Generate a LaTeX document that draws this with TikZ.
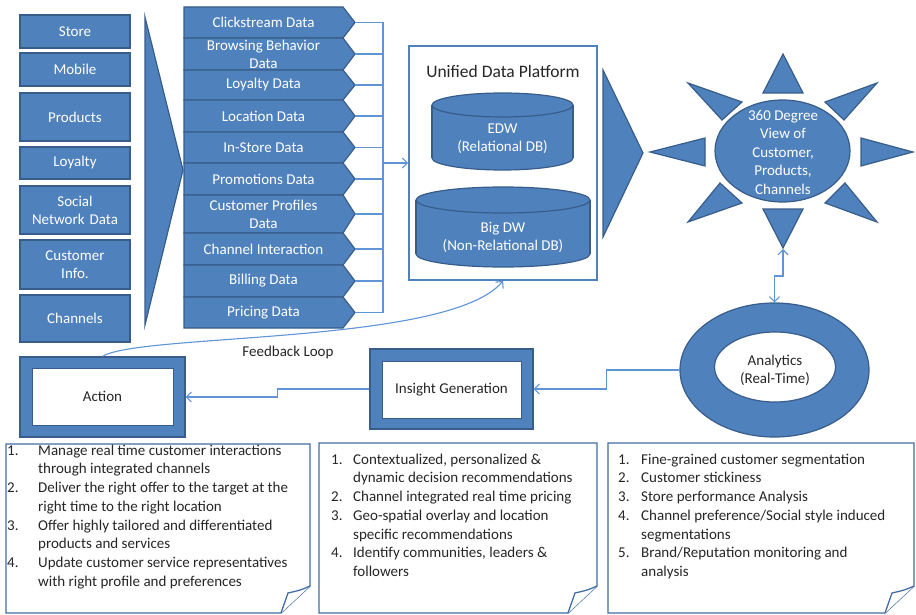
\documentclass[tikz,border=0pt]{standalone}
\usepackage{fontspec}
\setmainfont{Carlito}
\usetikzlibrary{arrows.meta,calc,shapes.geometric}

\definecolor{boxblue}{HTML}{4F81BD}
\definecolor{boxedge}{HTML}{385D8A}
\definecolor{linkblue}{HTML}{5F95D6}
\definecolor{ink}{HTML}{262626}

\newcommand\lblfont{\fontsize{15}{18}\selectfont}
\newcommand\ttlfont{\fontsize{17.5}{21}\selectfont}
\newcommand\notefont{\fontsize{15}{18.7}\selectfont}

\tikzset{
  blueshape/.style={fill=boxblue, draw=boxedge, line width=1.2pt},
  srcbox/.style={blueshape, minimum width=110, text width=104, align=center,
    inner sep=0pt, text=white, font=\lblfont},
  rowtext/.style={text=white, align=center, font=\lblfont, inner sep=0pt},
  darktext/.style={text=ink, align=center, font=\lblfont, inner sep=0pt},
  link/.style={draw=linkblue, line width=1.1pt},
  barb/.style={-{Straight Barb[length=5pt,width=10pt]}},
  notebox/.style={draw=boxblue!85!black, line width=1.3pt, fill=white},
  notetext/.style={text=ink, font=\notefont, inner sep=0pt, anchor=north west},
  dbtop/.style={blueshape},
}

% one data-source row: name, top, bottom, label
\newcommand\datarow[4]{%
  \filldraw[blueshape] (184,#2) -- (343,#2) -- (355,{(#2+#3)/2}) -- (343,#3) -- (184,#3) -- cycle;
  \node[rowtext] (#1) at (263.5,{(#2+#3)/2}) {#4};
  \coordinate (#1-tip) at (355,{(#2+#3)/2});
}

% cylinder: centre x, x radius, top y, bottom y, y radius
\newcommand\dbcyl[5]{%
  \filldraw[blueshape] (#1,#4-#5) ellipse [x radius=#2, y radius=#5];
  \fill[boxblue] (#1-#2,#3+#5) rectangle (#1+#2,#4-#5);
  \draw[boxedge, line width=1.2pt] (#1-#2,#3+#5) -- (#1-#2,#4-#5)
                                   (#1+#2,#3+#5) -- (#1+#2,#4-#5);
  \filldraw[blueshape] (#1,#3+#5) ellipse [x radius=#2, y radius=#5];
}

% sheet with a folded lower-right corner: x1, y1, x2, y2
\newcommand\notepage[4]{%
  \filldraw[notebox] (#1,#2) -- (#3,#2) -- (#3,#4-27) -- (#3-29,#4) -- (#1,#4) -- cycle;
  \filldraw[notebox] (#3,#4-27) .. controls (#3-9,#4-23) .. (#3-22,#4-20) -- (#3-29,#4);
}

\begin{document}
\begin{tikzpicture}[x=1pt,y=-1pt]
\fill[white] (0,0) rectangle (916,615);
\useasboundingbox (0,0) rectangle (916,615);

% ---- sources
\node[srcbox, minimum height=33] (store) at (75,31.5) {Store};
\node[srcbox, minimum height=33] (mobile) at (75,69.5) {Mobile};
\node[srcbox, minimum height=48] (products) at (75,117) {Products};
\node[srcbox, minimum height=32] (loyalty) at (75,163) {Loyalty};
\node[srcbox, minimum height=48] (social) at (75,210) {Social\\Network Data};
\node[srcbox, minimum height=49] (custinfo) at (75,264.5) {Customer\\Info.};
\node[srcbox, minimum height=47] (channels) at (75,318.5) {Channels};

\filldraw[blueshape] (145,17) -- (183,170) -- (145,325) -- cycle;

% ---- data feeds
\datarow{clk}{7}{38}{Clickstream Data}
\datarow{brw}{38}{70}{Browsing Behavior\\Data}
\datarow{lyd}{70}{100}{Loyalty Data}
\datarow{lcd}{100}{132}{Location Data}
\datarow{isd}{132}{163}{In-Store Data}
\datarow{prm}{163}{195}{Promotions Data}
\datarow{cpd}{195}{233}{Customer Profiles\\Data}
\datarow{chi}{233}{265}{Channel Interaction}
\datarow{bil}{265}{297}{Billing Data}
\datarow{prc}{297}{328}{Pricing Data}

% ---- unified data platform
\node[draw=boxblue, line width=1.8pt, fill=white, minimum width=188,
      minimum height=234, inner sep=0pt] (udp) at (503,163) {};
\node[text=ink, font=\ttlfont, inner sep=0pt] (udptitle) at (503,71) {Unified Data Platform};
\dbcyl{502.5}{70.5}{93}{170}{12}
\node[rowtext] (edw) at (502.5,139) {EDW\\(Relational DB)};
\dbcyl{503}{87}{187}{267}{13}
\node[rowtext] (bigdw) at (503,237.5) {Big DW\\(Non-Relational DB)};

\coordinate (bus) at (383,163);
\foreach \r in {clk,brw,lyd,lcd,isd,prm,cpd,chi,bil,prc}
  \draw[link] (\r-tip) -- (\r-tip -| bus);
\draw[link] (clk-tip -| bus) -- (prc-tip -| bus);
\draw[link, barb] (bus) -- (udp.west);

\filldraw[blueshape] (603,70) -- (643,153) -- (603,237) -- cycle;

% ---- 360 degree view
\filldraw[blueshape] (783,54) -- (803,93) -- (763,93) -- cycle;
\filldraw[blueshape] (783,248) -- (803,209) -- (763,209) -- cycle;
\filldraw[blueshape] (650,152) -- (705,138) -- (705,166) -- cycle;
\filldraw[blueshape] (913,152) -- (861,138) -- (861,166) -- cycle;
\filldraw[blueshape] (688,83) -- (742,102) -- (722,120) -- cycle;
\filldraw[blueshape] (877,83) -- (825,102) -- (844,120) -- cycle;
\filldraw[blueshape] (688,222) -- (742,203) -- (720,183) -- cycle;
\filldraw[blueshape] (877,222) -- (825,203) -- (845,183) -- cycle;
\node[ellipse, blueshape, minimum width=135, minimum height=102, inner sep=0pt] (sun) at (782.5,151) {};
\node[rowtext, font=\fontsize{15}{18.5}\selectfont] (suntxt) at (783,152) {360 Degree\\View of\\Customer,\\Products,\\Channels};
\coordinate (sunS) at (783,249);

% ---- analytics
\node[ellipse, blueshape, minimum width=189, minimum height=134, inner sep=0pt] (ana) at (774.5,370) {};
\node[ellipse, fill=white, draw=boxedge, line width=1.2pt, minimum width=121,
      minimum height=70, darktext] (anain) at (775,367) {};
\node[darktext] (anatxt) at (775,370) {Analytics\\(Real-Time)};
\draw[link, {Straight Barb[length=5pt,width=10pt]}-{Straight Barb[length=5pt,width=10pt]}]
  (sunS) -- ++(0,27) -| (ana.north);

% ---- insight and action
\node[blueshape, minimum width=163, minimum height=80, inner sep=0pt] (ins) at (451.5,389) {};
\node[fill=white, draw=boxedge, line width=1pt, minimum width=139, minimum height=57,
      darktext] (insin) at (451.5,389.5) {Insight Generation};
\node[blueshape, minimum width=165, minimum height=80, inner sep=0pt] (act) at (102.5,397) {};
\node[fill=white, draw=boxedge, line width=1pt, minimum width=141, minimum height=57,
      darktext] (actin) at (102.5,396.5) {Action};

\draw[link, barb] (ana.west) -- ++(-73,0) |- (ins.east);
\draw[link, barb] (ins.west) -- ++(-92,0) |- (act.east);
\draw[link, barb] (act.north) .. controls (140,333) and (450,345) .. (udp.south);
\node[darktext] (fbl) at (288,352) {Feedback Loop};

% ---- notes
\notepage{6}{444}{310}{613}
\notepage{319}{443}{597}{613}
\notepage{608}{443}{914}{613}

\node[notetext] (actnotes) at (7,442) {\begin{tabular}{@{}p{31pt}@{}l@{}}
1. & Manage real time customer interactions\\
   & through integrated channels\\
2. & Deliver the right offer to the target at the\\
   & right time to the right location\\
3. & Offer highly tailored and differentiated\\
   & products and services\\
4. & Update customer service representatives\\
   & with right profile and preferences
\end{tabular}};

\node[notetext] (insnotes) at (331,451) {\begin{tabular}{@{}p{22pt}@{}l@{}}
1. & Contextualized, personalized \&\\
   & dynamic decision recommendations\\
2. & Channel integrated real time pricing\\
3. & Geo-spatial overlay and location\\
   & specific recommendations\\
4. & Identify communities, leaders \&\\
   & followers
\end{tabular}};

\node[notetext] (ananotes) at (618,451) {\begin{tabular}{@{}p{23pt}@{}l@{}}
1. & Fine-grained customer segmentation\\
2. & Customer stickiness\\
3. & Store performance Analysis\\
4. & Channel preference/Social style induced\\
   & segmentations\\
5. & Brand/Reputation monitoring and\\
   & analysis
\end{tabular}};
\end{tikzpicture}
\end{document}
